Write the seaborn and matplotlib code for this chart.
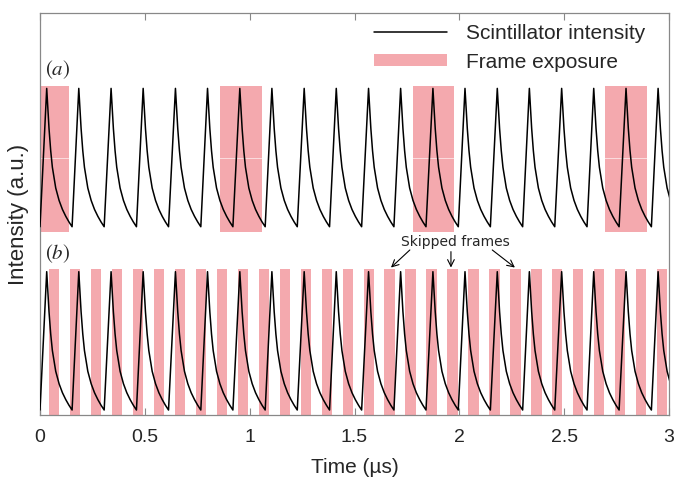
import matplotlib
matplotlib.use('Agg')
import matplotlib.pyplot as plt
import numpy as np
import pandas as pd
import seaborn as sns
from matplotlib.lines import Line2D
from matplotlib.patches import Patch

# Data (time in microseconds)
peak_times = [0.032, 0.185, 0.339, 0.492, 0.646, 0.799, 0.953, 1.106, 1.260, 1.413,
              1.567, 1.720, 1.874, 2.027, 2.181, 2.334, 2.488, 2.641, 2.795, 2.948]
# one scintillator pulse, relative to its peak
pulse_dt = [0.0, 0.011, 0.019, 0.027, 0.043, 0.059, 0.075, 0.091, 0.106, 0.121]
pulse_val = [1.0, 0.71, 0.55, 0.43, 0.28, 0.19, 0.125, 0.075, 0.035, 0.0]

# (a) long exposures, (b) short exposures
exp_a_start = [-0.061, 0.858, 1.777, 2.696]
exp_a_width = 0.199
exp_b_start = [0.043, 0.143, 0.243, 0.343, 0.443, 0.543, 0.643, 0.743, 0.843, 0.943,
               1.043, 1.143, 1.243, 1.343, 1.443, 1.543, 1.643, 1.743, 1.843, 1.943,
               2.043, 2.143, 2.243, 2.343, 2.443, 2.543, 2.643, 2.743, 2.843, 2.943]
exp_b_width = 0.049
skipped = [1.674, 1.960, 2.265]

offset_a = 1.325
pink = '#f4a9ae'

# build the trace from the pulses
t = [0.0]
v = [0.0]
for p in peak_times:
    t += [p + d for d in pulse_dt]
    v += pulse_val
trace = pd.DataFrame({'t': t, 'v': v})

sns.set_theme(style='white')
plt.rcParams['font.family'] = ['Liberation Sans', 'DejaVu Sans']
plt.rcParams['mathtext.fontset'] = 'stix'

fig = plt.figure(figsize=(6.75, 4.79), dpi=100)
ax = fig.add_axes([40 / 675, 1 - 415 / 479, 629 / 675, 402 / 479])

# frame exposures
ax.bar(exp_a_start, 2.343 - 1.285, width=exp_a_width, bottom=1.285, align='edge',
       color=pink, linewidth=0, zorder=1)
ax.bar(exp_b_start, 1.017 + 0.036, width=exp_b_width, bottom=-0.036, align='edge',
       color=pink, linewidth=0, zorder=1)
ax.axhline(1.82, color='white', lw=0.6, alpha=0.7, zorder=1.5)

# scintillator traces
sns.lineplot(data=trace, x='t', y='v', color='black', lw=1.1, ax=ax,
             estimator=None, sort=False, zorder=3)
trace_a = trace.assign(v=trace['v'] + offset_a)
sns.lineplot(data=trace_a, x='t', y='v', color='black', lw=1.1, ax=ax,
             estimator=None, sort=False, zorder=3)

ax.set_xlim(0, 3)
ax.set_ylim(-0.036, 2.87)
ax.set_xticks([0, 0.5, 1, 1.5, 2, 2.5, 3])
ax.set_xticklabels(['0', '0.5', '1', '1.5', '2', '2.5', '3'])
ax.set_yticks([])
ax.tick_params(axis='x', direction='in', top=True, bottom=True, length=5,
               width=0.8, color='#888888', labelsize=14, pad=10)
for s in ax.spines.values():
    s.set_color('#888888')
    s.set_linewidth(0.9)

ax.set_xlabel('Time (µs)', fontsize=15, labelpad=9)
ax.set_ylabel('Intensity (a.u.)', fontsize=16, labelpad=8)

ax.text(0.024, 2.458, r'$(a)$', fontsize=15, va='center', ha='left')
ax.text(0.024, 1.128, r'$(b)$', fontsize=15, va='center', ha='left')

# skipped frames annotation
ax.text(1.979, 1.215, 'Skipped frames', fontsize=10, family='DejaVu Sans',
        ha='center', va='center')
tails = [(1.764, 1.157), (1.960, 1.145), (2.157, 1.157)]
heads = [(x, 1.03) for x in skipped]
for tl, hd in zip(tails, heads):
    ax.annotate('', xy=hd, xytext=tl,
                arrowprops=dict(arrowstyle='->', lw=0.8, color='black',
                                shrinkA=0, shrinkB=0))

handles = [Line2D([], [], color='black', lw=1.1),
           Patch(facecolor=pink, edgecolor='none')]
ax.legend(handles, ['Scintillator intensity', 'Frame exposure'],
          loc='upper right', bbox_to_anchor=(0.975, 0.993), frameon=False,
          fontsize=15, handlelength=3.5, handleheight=0.55,
          handletextpad=0.9, labelspacing=0.45, borderaxespad=0)

fig.savefig('out.png', dpi=100)
